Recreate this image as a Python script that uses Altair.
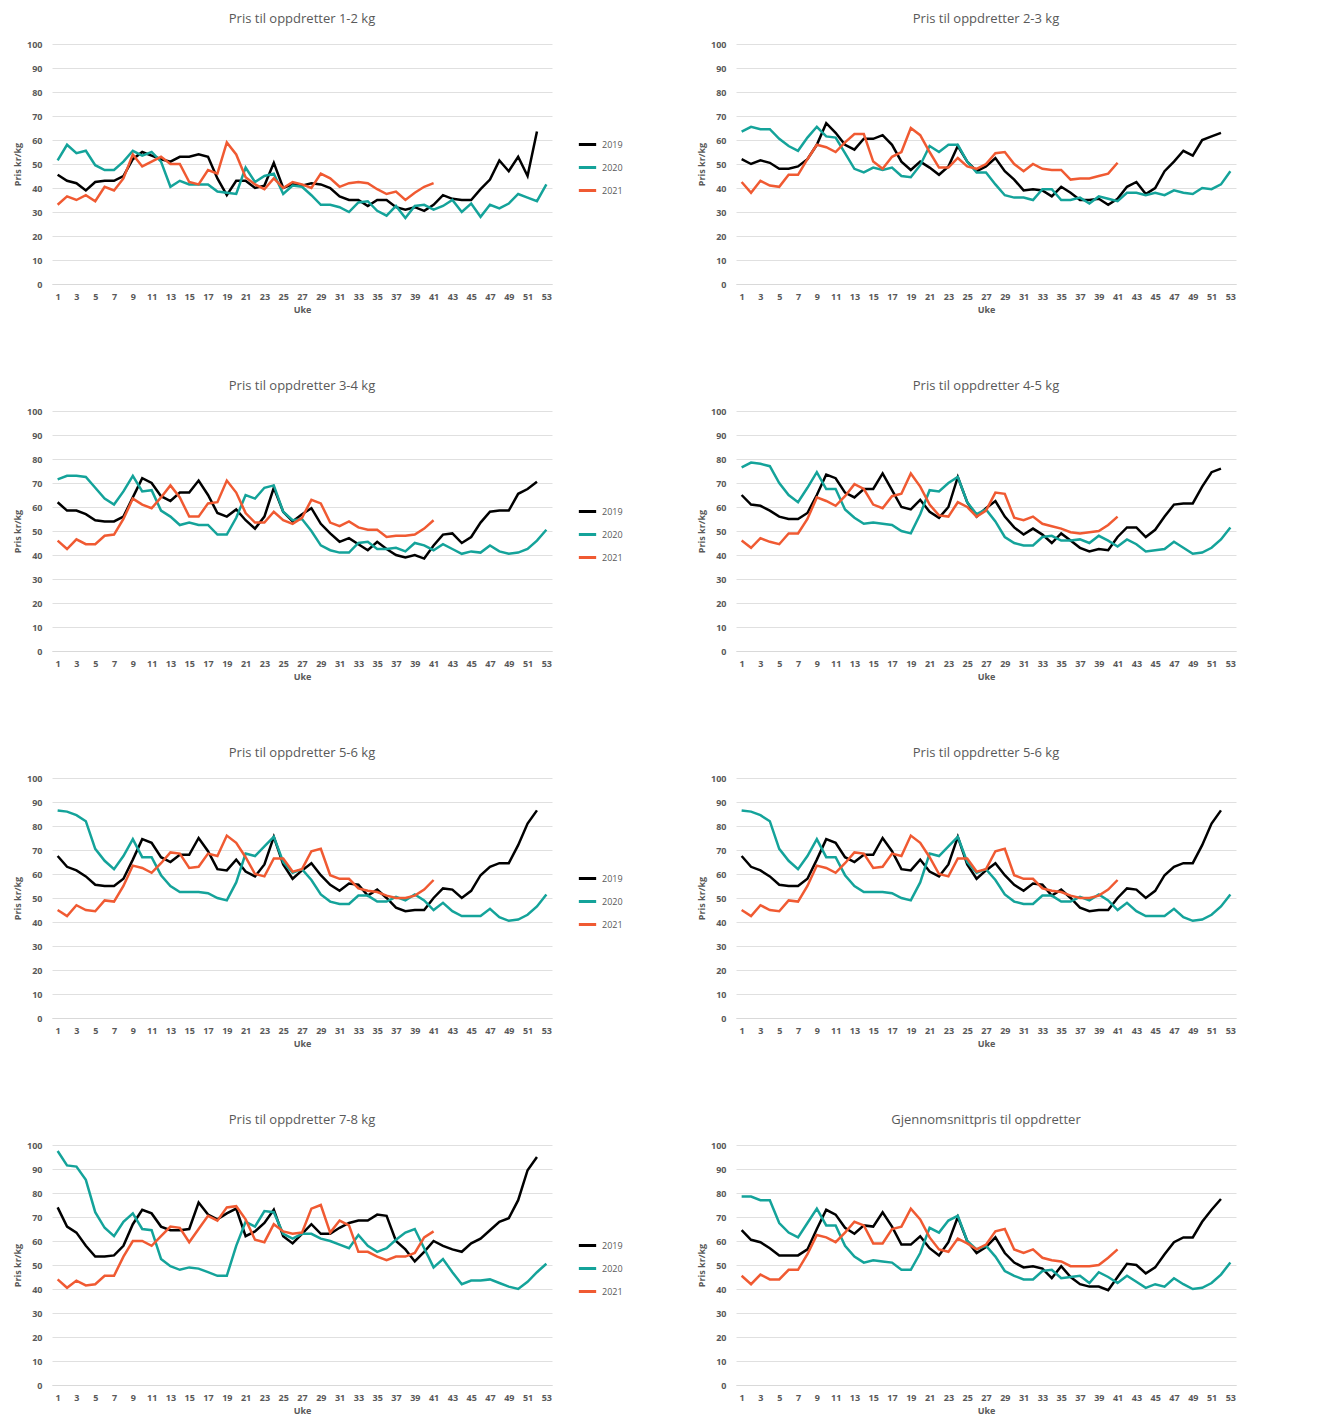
import altair as alt
import pandas as pd

titles = ["Pris til oppdretter  1-2 kg", "Pris til oppdretter  2-3 kg",
          "Pris til oppdretter  3-4 kg", "Pris til oppdretter  4-5 kg",
          "Pris til oppdretter  5-6 kg", "Pris til oppdretter  5-6 kg",
          "Pris til oppdretter  7-8 kg", "Gjennomsnittpris til oppdretter"]
years = ["2019", "2020", "2021"]

p12_2019 = [45.5,43,42,39,42.5,43,43,45,52,55,53.5,52,51,53,53,54,53,44,37,43,43,40,41,50.5,40,41.5,41,42,41.5,40,36.5,35,35,32.5,35,35,32,31,32,30.5,33,37,35.5,35,35,39.5,43.5,51.5,47,53,45,63.5]
p12_2020 = [51.5,58,54.5,55.5,49.5,47.5,47.5,51,55.5,53.5,55,51,40.5,43,41.5,41.5,41.5,38.5,38,37.5,48.5,42.5,45,46,37.5,41,40.5,37,33,33,32,30,34,34.5,30.5,28.5,32.5,27.5,32.5,33,31,32.5,35,30,33.5,28,33,31.5,33.5,37.5,36,34.5,41.5]
p12_2021 = [33,36.5,35,37,34.5,40.5,39,44,54,49,51,53,50,50,42.5,41.5,47.5,46,59,54,44.5,41.5,39.5,44,40,42.5,41.5,40,46,44,40.5,42,42.5,42,39.5,37.5,38.5,35,38,40.5,42]

p23_2019 = [52,50,51.5,50.5,48,48,49,52,58,67,63,58,56,60.5,60.5,62,58,51,47.5,51,48.5,45.5,49,57.5,51,47,49,52.5,47,43.5,39,39.5,39,36.5,40.5,38,35,35,35.5,33,35.5,40.5,42.5,37.5,40,47,51,55.5,53.5,60,61.5,63]
p23_2020 = [63.5,65.5,64.5,64.5,60.5,57.5,55.5,61,65.5,61.5,61,54.5,48,46.5,48.5,47.5,48.5,45,44.5,49.5,57.5,55,58,58,51,46.5,46.5,41.5,37,36,36,35,39.5,39.5,35,35,36,33.5,36.5,35.5,34.5,38,38,37,38,37,39,38,37.5,40,39.5,41.5,47]
p23_2021 = [42.5,38,43,41,40.5,45.5,45.5,52,58,57,55,59,62.5,62.5,51,48,53,55,65,62,55,48.5,48.5,52.5,49,48,50,54.5,55,50,47,50,48,47.5,47.5,43.5,44,44,45,46,50.5]

p34_2019 = [62,58.5,58.5,57,54.5,54,54,56,64,72,70,64.5,62.5,66,66,71,65,57.5,56,59,54.5,51,56,68,58,54,57,59.5,53,49,45.5,47,44.5,42,45.5,42.5,40,39,40,38.5,44,48.5,49,45,47.5,53.5,58,58.5,58.5,65.5,67.5,70.5]
p34_2020 = [71.5,73,73,72.5,68,63.5,61,66.5,73,66.5,67,58.5,56,52.5,53.5,52.5,52.5,48.5,48.5,55.5,65,63.5,68,69,58,54.5,55,50,44,42,41,41,45,45.5,42.5,42.5,43,41.5,45,44,42,44.5,42.5,40.5,41.5,41,44,41.5,40.5,41,42.5,46,50.5]
p34_2021 = [46,42.5,46.5,44.5,44.5,48,48.5,55,63.5,61,59.5,64,69,64,56,56,61.5,62,71,66,57.5,53.5,53.5,58,54.5,53,55.5,63,61.5,53.5,52,54,51.5,50.5,50.5,47.5,48,48,48.5,51,54.5]

p45_2019 = [65,61,60.5,58.5,56,55,55,57.5,65,73.5,72,66,64,67.5,67.5,74,67,60,59,63,58,55.5,60,72.5,62,56,59.5,62.5,56,51.5,48.5,51,48.5,45,49,46,43,41.5,42.5,42,47.5,51.5,51.5,47.5,50.5,56,61,61.5,61.5,68.5,74.5,76]
p45_2020 = [76.5,78.5,78,77,70,65,62,68,74.5,67.5,67.5,59,55.5,53,53.5,53,52.5,50,49,57,67,66.5,70,72.5,62,57,59,54,47.5,45,44,44,47.5,48,46,46,46.5,45,48,46,43.5,46.5,44.5,41.5,42,42.5,45.5,43,40.5,41,43,46.5,51.5]
p45_2021 = [46,43,47,45.5,44.5,49,49,55,64,62.5,60.5,64.5,69.5,67.5,61,59.5,64.5,65.5,74,68.5,61,56.5,56,62,60,56,58.5,66,65.5,55.5,54.5,56,53,52,51,49.5,49,49.5,50,52.5,56]

p56_2019 = [67.5,63,61.5,59,55.5,55,55,58,66,74.5,73,67,65,68,68,75,69.5,62,61.5,66,61,59,64,75.5,64,58,61.5,64.5,59.5,55.5,53,56,55.5,51,53.5,50,46,44.5,45,45,50,54,53.5,50,53,59.5,63,64.5,64.5,72,81,86.5]
p56_2020 = [86.5,86,84.5,82,70.5,65.5,62,67.5,74.5,67,67,59.5,55,52.5,52.5,52.5,52,50,49,56.5,68.5,67.5,71.5,75.5,65,60.5,62,57.5,51.5,48.5,47.5,47.5,51,51,48.5,48.5,50.5,49,51.5,49,45,48,44.5,42.5,42.5,42.5,45.5,42,40.5,41,43,46.5,51.5]
p56_2021 = [45,42.5,47,45,44.5,49,48.5,55,63.5,62.5,60.5,64.5,69,68.5,62.5,63,68.5,67.5,76,73,67,60,59,66.5,66.5,61,62,69.5,70.5,59.5,58,58,54,53,52.5,51,50,50,51,53.5,57.5]

p78_2019 = [74,66,63.5,58,53.5,53.5,54,58,67,73,71.5,66,64.5,64.5,65,76,71,69,71.5,73.5,62,64,67.5,73,62,59,63,67,63,63,65.5,67.5,68.5,68.5,71,70.5,60,56.5,51.5,55.5,60,58,56.5,55.5,59,61,64.5,68,69.5,77,89.5,95]
p78_2020 = [97.5,91.5,91,85.5,72,65.5,62,68,71.5,65,64.5,52.5,49.5,48,49,48.5,47,45.5,45.5,58,68,66,72.5,72,63,61,63,63,61,60,58.5,57,62.5,58,55.5,57,60.5,63.5,65,57,49,52.5,47,42,43.5,43.5,44,42.5,41,40,43,47,50.5]
p78_2021 = [44,40.5,43.5,41.5,42,45.5,45.5,53.5,60,60,58,62,66,65.5,59.5,65,70.5,68.5,74,74.5,69,60.5,59.5,67,64,63,63.5,73.5,75,63.5,68.5,66.5,55.5,55.5,53.5,52,53.5,53.5,55,61.5,64]

avg_2019 = [64.5,60.5,59.5,57,54,54,54,56.5,65,73,71,65.5,63,66.5,66,72,66,58.5,58.5,62,57,54,59.5,70,60,55,57.5,61.5,55,51,49,49.5,48.5,44.5,49.5,45,42,41,41,39.5,45,50.5,50,46.5,49,54.5,59.5,61.5,61.5,68,73,77.5]
avg_2020 = [78.5,78.5,77,77,67.5,63.5,61.5,67.5,73.5,66.5,66.5,58,53.5,51,52,51.5,51,48,48,55,65.5,63.5,68.5,70.5,60,56.5,58,53.5,47.5,45.5,44,44,47.5,48,44.5,45,45.5,42.5,47,45,42.5,45.5,43,40.5,42,41,44.5,42,40,40.5,42.5,46,51]
avg_2021 = [45.5,42,46,44,44,48,48,54.5,62.5,61.5,59.5,63.5,68,66.5,59,59,65,66,73.5,69,61.5,56.5,55.5,61,59,56.5,58.5,64,65,56.5,55,56.5,53,52,51.5,49.5,49.5,49.5,50,53,56.5]

panels = [
    (p12_2019, p12_2020, p12_2021), (p23_2019, p23_2020, p23_2021),
    (p34_2019, p34_2020, p34_2021), (p45_2019, p45_2020, p45_2021),
    (p56_2019, p56_2020, p56_2021), (p56_2019, p56_2020, p56_2021),
    (p78_2019, p78_2020, p78_2021), (avg_2019, avg_2020, avg_2021),
]
week_ticks = list(range(1, 54, 2))
colors = ["#000000", "#14A39A", "#F05A32"]
FONT = "Open Sans"


def make(title, series):
    rows = []
    for yr, vals in zip(years, series):
        for i, v in enumerate(vals):
            rows.append({"Uke": i + 1, "Pris": v, "År": yr})
    df = pd.DataFrame(rows)
    return alt.Chart(df).mark_line(strokeWidth=2.5).encode(
        x=alt.X("Uke:Q", scale=alt.Scale(domain=[0.4, 53.6], nice=False, zero=False),
                axis=alt.Axis(values=week_ticks, grid=False, title="Uke", domainColor="#d9d9d9",
                              ticks=False, labelFontWeight="bold", labelColor="#595959",
                              labelFontSize=9, titleFontSize=9, titleColor="#595959",
                              titleFontWeight="bold", labelPadding=8, titlePadding=4)),
        y=alt.Y("Pris:Q", scale=alt.Scale(domain=[0, 100]),
                axis=alt.Axis(values=list(range(0, 101, 10)), title="Pris kr/kg", domain=False,
                              ticks=False, gridColor="#e0e0e0", labelFontWeight="bold",
                              labelColor="#595959", labelFontSize=9, titleFontSize=9,
                              titleColor="#595959", titleFontWeight="bold", labelPadding=10)),
        color=alt.Color("År:N", scale=alt.Scale(domain=years, range=colors),
                        legend=alt.Legend(title=None, orient="none", legendX=525, legendY=90,
                                          symbolType="stroke", symbolStrokeWidth=3, symbolSize=300,
                                          labelFontSize=9, labelColor="#595959", rowPadding=6)),
    ).properties(width=500, height=240,
                 title=alt.TitleParams(title, fontSize=13, fontWeight="normal", color="#595959",
                                       font=FONT, offset=14))


charts = [make(t, s) for t, s in zip(titles, panels)]
rows = [alt.hconcat(charts[i], charts[i + 1], spacing=145) for i in range(0, 8, 2)]
chart = alt.vconcat(*rows, spacing=66).resolve_legend(color="independent").configure(
    font=FONT).configure_view(stroke=None)
chart.save("out.html", embed_options={"renderer": "svg", "actions": False})
